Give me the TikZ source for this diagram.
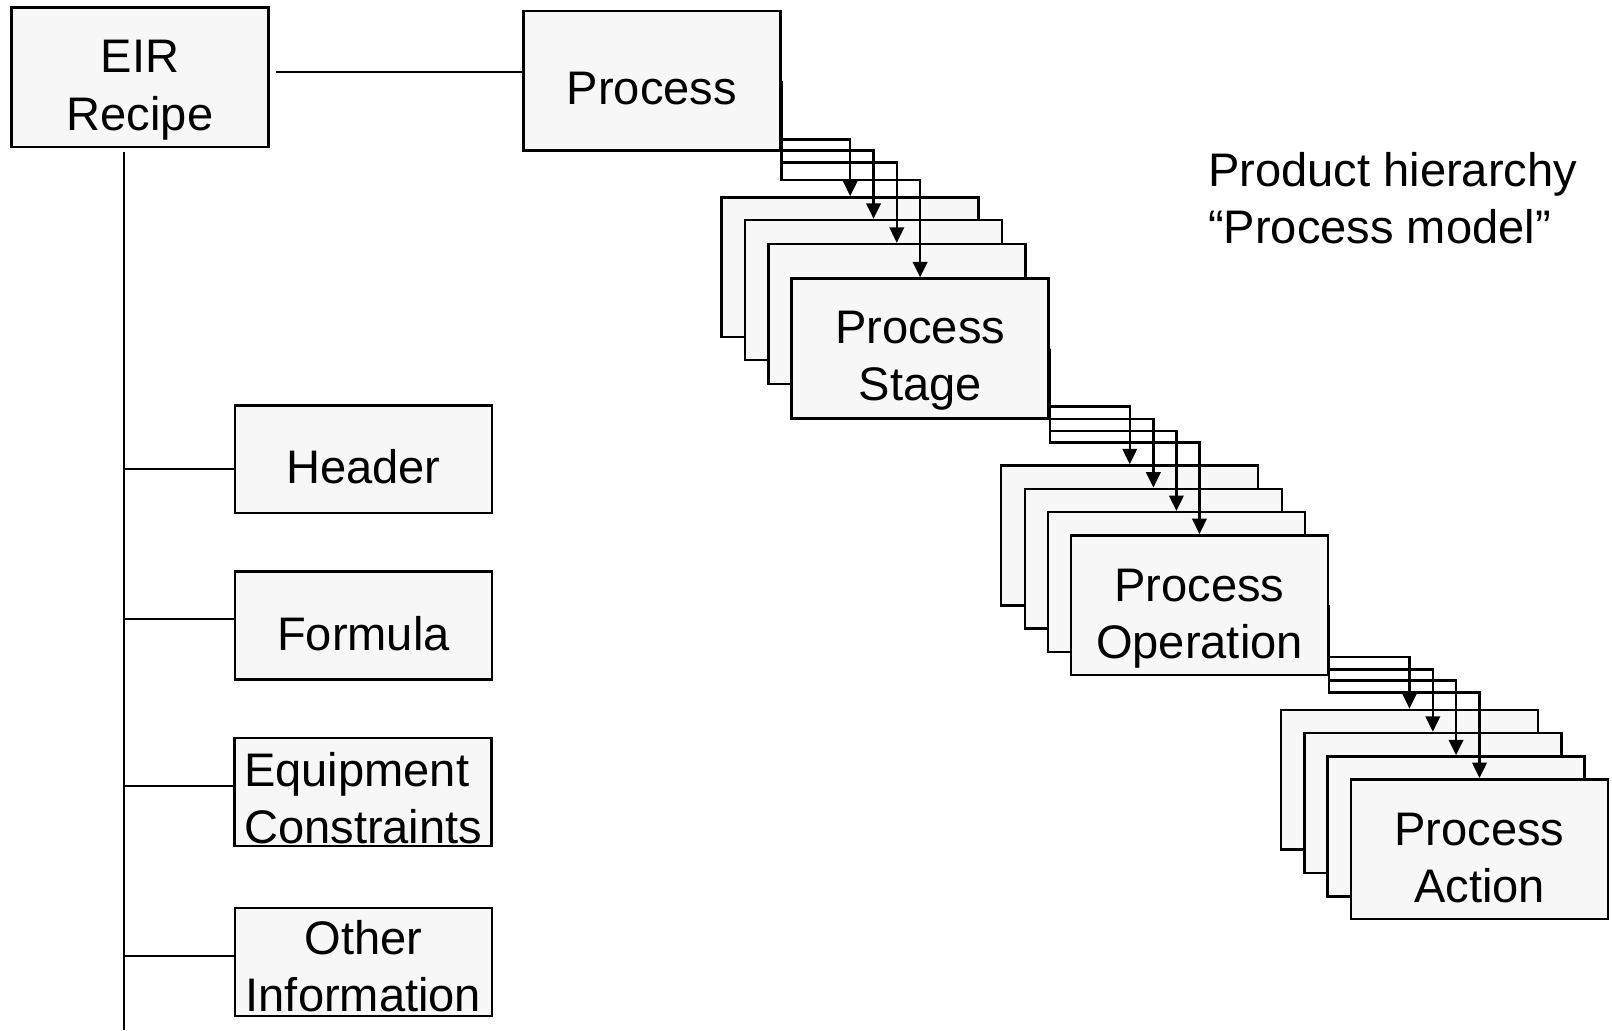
\documentclass[tikz,border=0pt]{standalone}
\usepackage{fontspec}
\setmainfont{Liberation Sans}
\usetikzlibrary{arrows.meta}
\definecolor{boxfill}{RGB}{247,247,247}
\begin{document}
\begin{tikzpicture}[x=1pt,y=-1pt,
  bigbox/.style={draw, line width=2.4pt, fill=boxfill, minimum width=250pt,
    minimum height=136pt, inner sep=0pt},
  smallbox/.style={bigbox, minimum height=105pt},
  lbl/.style={font=\fontsize{45.8}{55.8}\selectfont, align=center, anchor=base, inner sep=0pt},
  link/.style={line width=1.7pt},
  bus/.style={line width=2.4pt, -{Triangle[length=15pt,width=14pt]}}]

\useasboundingbox (0,0) rectangle (1568,1002);

% recipe root and the process (label anchors sit on the last baseline)
\node[bigbox] (eir) at (136.2,75.2) {};
\node[lbl] (eirT) at (136.2,126.8) {EIR\\Recipe};
\node[bigbox] (proc) at (634,78.5) {};
\node[lbl] (procT) at (634,102.1) {Process};

\coordinate (eirR) at (268.2,70.2);
\draw[link] (eirR) -- (eirR -| proc.west);

% recipe parts along the trunk
\node[smallbox] (hdr) at (353.5,446.7) {};
\node[lbl] (hdrT) at (353.5,470.2) {Header};
\node[smallbox] (frm) at (353.5,608.5) {};
\node[lbl] (frmT) at (353.5,632.3) {Formula};
\node[smallbox] (eqp) at (353.3,770.6) {};
\node[lbl] (eqpT) at (353.3,820.4) {\hbox{Equipment\kern0.278em}\\Constraints};
\node[smallbox] (oth) at (353.5,935.5) {};
\node[lbl] (othT) at (353.5,984) {Other\\Information};

\coordinate (trunkTop) at (120.6,148.2);
\coordinate (trunkEnd) at (120.6,1002);
\draw[link] (trunkTop) -- (trunkEnd);
\draw[link] (trunkTop |- 0,456.2) -- (hdr.west |- 0,456.2);
\draw[link] (trunkTop |- 0,602.4) -- (frm.west |- 0,602.4);
\draw[link] (trunkTop |- 0,764.3) -- (eqp.west |- 0,764.3);
\draw[link] (trunkTop |- 0,929.7) -- (oth.west |- 0,929.7);

% process stages
\node[bigbox] (st1) at (827,260) {};
\node[bigbox] (st2) at (849.7,282) {};
\node[bigbox] (st3) at (872.3,305.4) {};
\node[bigbox] (st4) at (895,339) {};
\node[lbl] (st4T) at (895,389.6) {Process\\Stage};
\foreach \t/\y in {st1/135.5, st2/146.6, st3/158.2, st4/175}
  \draw[bus] (proc.east) |- (\t.north |- 0,\y) -- (\t.north);

% process operations
\node[bigbox] (op1) at (1098.9,520.8) {};
\node[bigbox] (op2) at (1121.9,543.5) {};
\node[bigbox] (op3) at (1144.3,566.2) {};
\node[bigbox] (op4) at (1166.7,588.7) {};
\node[lbl] (op4T) at (1166.7,640.4) {Process\\Operation};
\foreach \t/\y in {op1/395.6, op2/407.6, op3/419, op4/430.3}
  \draw[bus] (st4.east) |- (\t.north |- 0,\y) -- (\t.north);

% process actions
\node[bigbox] (ac1) at (1371,758.5) {};
\node[bigbox] (ac2) at (1393.7,781) {};
\node[bigbox] (ac3) at (1416.3,803.8) {};
\node[bigbox] (ac4) at (1439.1,826) {};
\node[lbl] (ac4T) at (1439.1,878) {Process\\Action};
\foreach \t/\y in {ac1/638.8, ac2/651, ac3/662, ac4/673.5}
  \draw[bus] (op4.east) |- (\t.north |- 0,\y) -- (\t.north);

% caption
\node[font=\fontsize{45.8}{55.5}\selectfont, align=left, anchor=base west, inner sep=0pt]
  (note) at (1175,236.5) {Product hierarchy\\“Process model”};
\end{tikzpicture}
\end{document}
